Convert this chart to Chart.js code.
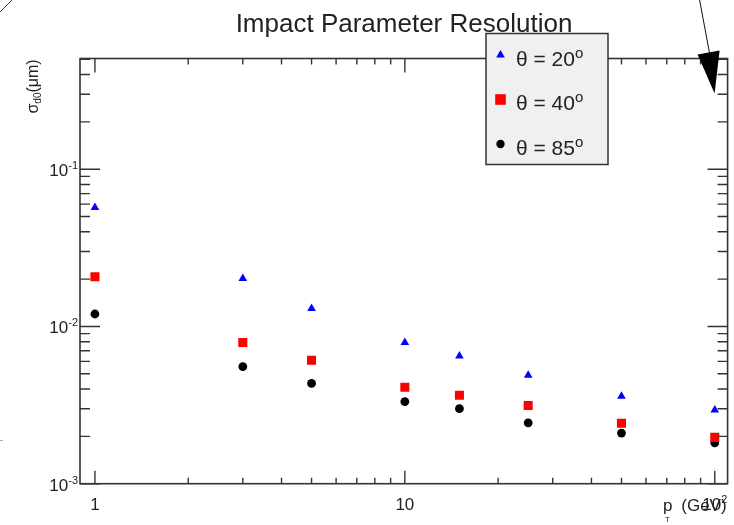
<!DOCTYPE html>
<html lang="en">
  <head>
    <meta charset="UTF-8" />
    <title>Impact Parameter Resolution</title>
    <script src="https://cdn.jsdelivr.net/npm/chart.js@4.4.1/dist/chart.umd.min.js"></script>
    <style>
      html, body { margin: 0; padding: 0; background: #fff; }
      #wrap { width: 734px; height: 525px; }
    </style>
  </head>
  <body>
    <div id="wrap"><canvas id="myChart" width="734" height="525"></canvas></div>
    <script>
      // pT in GeV
      const pT = [1, 3, 5, 10, 15, 25, 50, 100];
      // sigma d0 for each theta
      const sigma20 = [0.057, 0.0202, 0.013, 0.0079, 0.0065, 0.0049, 0.0036, 0.00294];
      const sigma40 = [0.0207, 0.0079, 0.0061, 0.0041, 0.00365, 0.00314, 0.00242, 0.00197];
      const sigma85 = [0.012, 0.00556, 0.00434, 0.00333, 0.003, 0.00244, 0.0021, 0.00182];

      const seriesLabels = ["20", "40", "85"];
      const xTickValues = [1, 10, 100];
      const xTickLabels = [["1", ""], ["10", ""], ["10", "2"]];
      const yTickValues = [0.001, 0.01, 0.1];
      const yTickLabels = [["10", "-3"], ["10", "-2"], ["10", "-1"]];

      const textColor = "#222";
      const lineColor = "#333";

      function toPoints(ys) {
        return pT.map((x, i) => ({ x: x, y: ys[i] }));
      }

      function marker(ctx, style, r, x, y, color) {
        ctx.save();
        ctx.fillStyle = color;
        ctx.beginPath();
        if (style === "triangle") {
          ctx.moveTo(x, y - r);
          ctx.lineTo(x + r * Math.sin(2 * Math.PI / 3), y - r * Math.cos(2 * Math.PI / 3));
          ctx.lineTo(x + r * Math.sin(4 * Math.PI / 3), y - r * Math.cos(4 * Math.PI / 3));
          ctx.closePath();
        } else if (style === "rect") {
          let s = r * Math.SQRT1_2;
          ctx.rect(x - s, y - s, 2 * s, 2 * s);
        } else {
          ctx.arc(x, y, r, 0, Math.PI * 2);
        }
        ctx.fill();
        ctx.restore();
      }

      // text with a raised (or lowered) small part
      function supText(ctx, base, extra, x, y, size, smallSize, shift, align) {
        ctx.font = size + "px 'Liberation Sans', Arial, sans-serif";
        let w1 = ctx.measureText(base).width;
        ctx.font = smallSize + "px 'Liberation Sans', Arial, sans-serif";
        let w2 = extra ? ctx.measureText(extra).width : 0;
        let total = w1 + w2;
        let x0 = x;
        if (align === "center") x0 = x - total / 2;
        if (align === "right") x0 = x - total;
        ctx.textAlign = "left";
        ctx.textBaseline = "alphabetic";
        ctx.font = size + "px 'Liberation Sans', Arial, sans-serif";
        ctx.fillText(base, x0, y);
        if (extra) {
          ctx.font = smallSize + "px 'Liberation Sans', Arial, sans-serif";
          ctx.fillText(extra, x0 + w1, y + shift);
        }
        return total;
      }

      const rootFrame = {
        id: "rootFrame",
        afterDatasetsDraw(chart) {
          const ctx = chart.ctx;
          const a = chart.chartArea;
          const xs = chart.scales.x;
          const ys = chart.scales.y;
          ctx.save();

          // frame
          ctx.strokeStyle = lineColor;
          ctx.lineWidth = 1.6;
          ctx.strokeRect(a.left, a.top, a.right - a.left, a.bottom - a.top);

          // x ticks (bottom + top)
          ctx.lineWidth = 1.4;
          xTickValues.forEach((d) => {
            for (let m = 1; m <= 9; m++) {
              let v = d * m;
              if (v < xs.min || v > xs.max) continue;
              let px = xs.getPixelForValue(v);
              let len = m === 1 ? 13 : 6;
              ctx.beginPath();
              ctx.moveTo(px, a.bottom);
              ctx.lineTo(px, a.bottom - len);
              ctx.moveTo(px, a.top);
              ctx.lineTo(px, a.top + len + (m === 1 ? 1 : 0));
              ctx.stroke();
            }
          });

          // y ticks (left + right)
          yTickValues.forEach((d) => {
            for (let m = 1; m <= 9; m++) {
              let v = d * m;
              if (v < ys.min || v > ys.max) continue;
              let py = ys.getPixelForValue(v);
              let len = m === 1 ? 20 : 10;
              ctx.beginPath();
              ctx.moveTo(a.left, py);
              ctx.lineTo(a.left + len, py);
              ctx.moveTo(a.right, py);
              ctx.lineTo(a.right - len, py);
              ctx.stroke();
            }
          });

          // tick labels
          ctx.fillStyle = textColor;
          xTickValues.forEach((v, i) => {
            let px = xs.getPixelForValue(v);
            supText(ctx, xTickLabels[i][0], xTickLabels[i][1], px, a.bottom + 26, 17, 11, -7, "center");
          });
          yTickValues.forEach((v, i) => {
            let py = ys.getPixelForValue(v);
            supText(ctx, yTickLabels[i][0], yTickLabels[i][1], a.left - 2, py + 7, 17, 11, -7, "right");
          });

          // axis titles
          ctx.font = "17px 'Liberation Sans', Arial, sans-serif";
          ctx.textAlign = "right";
          ctx.fillText("(GeV)", a.right - 1, a.bottom + 27);
          ctx.textAlign = "left";
          ctx.fillText("p", a.left + 583, a.bottom + 27);
          ctx.font = "8px 'Liberation Sans', Arial, sans-serif";
          ctx.fillText("T", a.left + 585, a.bottom + 38);

          ctx.save();
          ctx.translate(38, a.top + 55);
          ctx.rotate(-Math.PI / 2);
          ctx.textAlign = "left";
          ctx.font = "16px 'Liberation Sans', Arial, sans-serif";
          ctx.fillText("\u03c3", 0, 0);
          let w = ctx.measureText("\u03c3").width;
          ctx.font = "10px 'Liberation Sans', Arial, sans-serif";
          ctx.fillText("d0", w, 3);
          w += ctx.measureText("d0").width;
          ctx.font = "16px 'Liberation Sans', Arial, sans-serif";
          ctx.fillText("(\u03bcm)", w, 0);
          ctx.restore();

          // title
          ctx.font = "26px 'Liberation Sans', Arial, sans-serif";
          ctx.textAlign = "center";
          ctx.fillText("Impact Parameter Resolution", 404, 32);

          // legend box
          let lx = 486, ly = 33.5, lw = 122, lh = 131;
          ctx.fillStyle = "#f0f0f0";
          ctx.fillRect(lx, ly, lw, lh);
          ctx.strokeStyle = lineColor;
          ctx.lineWidth = 1.5;
          ctx.strokeRect(lx, ly, lw, lh);
          chart.data.datasets.forEach((ds, i) => {
            let cy = 55 + i * 44.5;
            let legR = ds.pointStyle === "rect" ? 7.5 : ds.pointStyle === "triangle" ? 5 : 4.2;
            marker(ctx, ds.pointStyle, legR, 500.5, cy, ds.backgroundColor);
            ctx.fillStyle = textColor;
            supText(ctx, "\u03b8 = " + seriesLabels[i], "o", 516, cy + 10.5, 21, 15, -8, "left");
          });

          // stray arrow and marks from the original figure
          ctx.strokeStyle = "#111";
          ctx.lineWidth = 1;
          ctx.beginPath();
          ctx.moveTo(a.right - 28, 0);
          ctx.lineTo(a.right - 18, a.top - 5);
          ctx.stroke();
          ctx.fillStyle = "#000";
          ctx.beginPath();
          ctx.moveTo(a.right - 30, a.top - 4);
          ctx.lineTo(a.right - 8, a.top - 8);
          ctx.lineTo(a.right - 13, a.top + 35);
          ctx.closePath();
          ctx.fill();

          ctx.strokeStyle = "#444";
          ctx.beginPath();
          ctx.moveTo(0, 12);
          ctx.lineTo(12, 0);
          ctx.stroke();
          ctx.strokeStyle = "#aaa";
          ctx.beginPath();
          ctx.moveTo(0, 440.5);
          ctx.lineTo(3, 440.5);
          ctx.stroke();

          ctx.restore();
        },
      };

      new Chart("myChart", {
        type: "scatter",
        data: {
          datasets: [
            {
              label: "\u03b8 = 20",
              data: toPoints(sigma20),
              pointStyle: "triangle",
              pointRadius: 5,
              backgroundColor: "#0000ff",
              borderWidth: 0,
            },
            {
              label: "\u03b8 = 40",
              data: toPoints(sigma40),
              pointStyle: "rect",
              pointRadius: 6.4,
              backgroundColor: "#ff0000",
              borderWidth: 0,
            },
            {
              label: "\u03b8 = 85",
              data: toPoints(sigma85),
              pointStyle: "circle",
              pointRadius: 4.4,
              backgroundColor: "#000000",
              borderWidth: 0,
            },
          ],
        },
        options: {
          responsive: false,
          animation: false,
          layout: { padding: { left: 80, right: 6, top: 58.5, bottom: 41.3 } },
          scales: {
            x: { type: "logarithmic", min: 0.895, max: 110, display: false },
            y: { type: "logarithmic", min: 0.001, max: 0.506, display: false },
          },
          plugins: {
            legend: { display: false },
            tooltip: { enabled: false },
          },
        },
        plugins: [rootFrame],
      });
    </script>
  </body>
</html>
